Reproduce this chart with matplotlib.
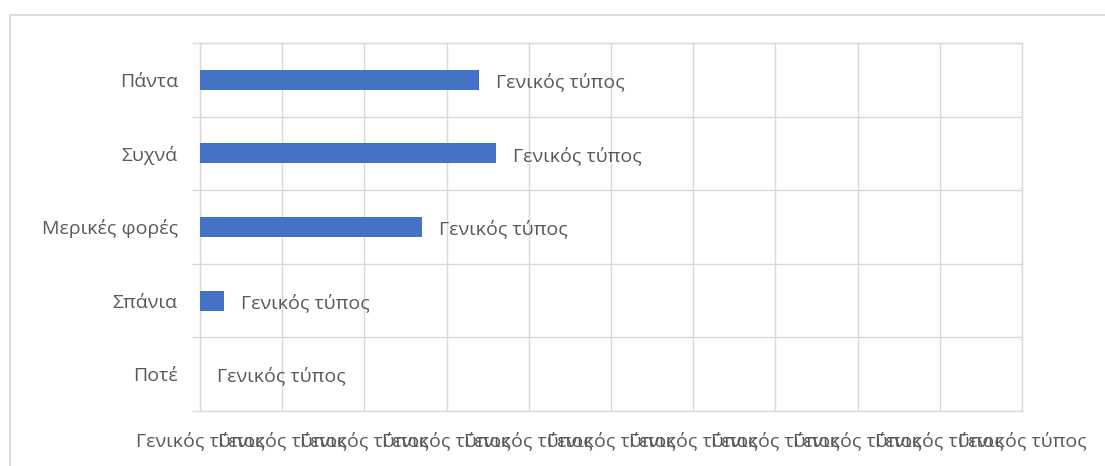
import matplotlib
matplotlib.use("Agg")
import matplotlib.pyplot as plt
from matplotlib.patches import Rectangle
from matplotlib.ticker import FixedLocator

plt.rcParams['font.family'] = ['Open Sans', 'DejaVu Sans']

# δεδομένα (από κάτω προς τα πάνω)
katigories = ["Ποτέ", "Σπάνια", "Μερικές φορές", "Συχνά", "Πάντα"]
times = [0.0, 0.29, 2.70, 3.60, 3.40]
etiketa = "Γενικός τύπος"
x_ticks = list(range(0, 11))

grid_col = '#D9D9D9'
text_col = '#595959'
bar_col = '#4472C4'
fs = 14

fig = plt.figure(figsize=(11.05, 4.66), dpi=100)
ax = fig.add_axes([200 / 1105, 1 - 411 / 466, 822 / 1105, 368 / 466])

y = list(range(len(katigories)))
ax.barh(y, times, height=0.27, color=bar_col, zorder=3)

# ετικέτες δεδομένων
for yi, v in zip(y, times):
    ax.annotate(etiketa, (v, yi), xytext=(12, -1.5), textcoords='offset points',
                va='center', ha='left', fontsize=fs, color=text_col)

ax.set_xlim(0, 10)
ax.set_ylim(-0.5, len(katigories) - 0.5)

ax.set_xticks(x_ticks)
ax.set_xticklabels([etiketa] * len(x_ticks))
ax.set_yticks(y)
ax.set_yticklabels(katigories)
ax.yaxis.set_minor_locator(FixedLocator([i - 0.5 for i in range(len(katigories) + 1)]))

# οι ετικέτες του άξονα x επικαλύπτονται όπως στο πρωτότυπο
ax.tick_params(axis='x', length=0, pad=15, labelsize=fs, labelcolor=text_col)
ax.tick_params(axis='y', which='major', length=0, pad=16, labelsize=fs, labelcolor=text_col)
ax.tick_params(axis='y', which='minor', length=5.8, width=1, color=grid_col)

ax.grid(axis='x', which='major', color=grid_col, lw=1, zorder=0)
ax.grid(axis='y', which='minor', color=grid_col, lw=1, zorder=0)
for s in ax.spines.values():
    s.set_color(grid_col)
    s.set_linewidth(1)
ax.set_axisbelow(True)

# περίγραμμα γραφήματος
fig.add_artist(Rectangle((10 / 1105, -0.05), 1.1, 1 - 15 / 466 + 0.05,
                         transform=fig.transFigure, fill=False,
                         edgecolor=grid_col, lw=1.3))

fig.savefig("out.png", dpi=100)
